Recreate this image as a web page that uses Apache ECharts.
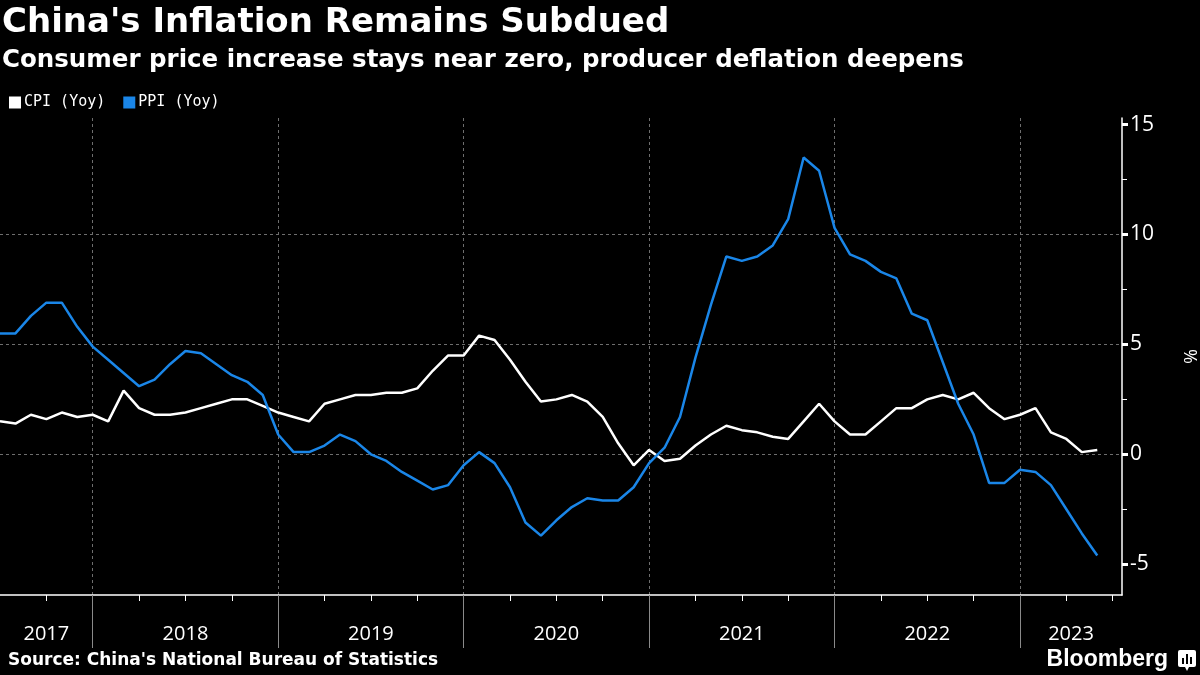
<!DOCTYPE html>
<html>
<head>
<meta charset="utf-8">
<title>China's Inflation Remains Subdued</title>
<script src="https://cdn.jsdelivr.net/npm/echarts@6/dist/echarts.min.js"></script>
<style>
  html, body { margin: 0; padding: 0; background: #000; }
  #chart { width: 1200px; height: 675px; }
</style>
</head>
<body>
<div id="chart"></div>
<script>
// monthly readings, Jun 2017 .. May 2023
const months = [
  '2017-06', '2017-07', '2017-08', '2017-09', '2017-10', '2017-11', '2017-12',
  '2018-01', '2018-02', '2018-03', '2018-04', '2018-05', '2018-06', '2018-07', '2018-08', '2018-09', '2018-10', '2018-11', '2018-12',
  '2019-01', '2019-02', '2019-03', '2019-04', '2019-05', '2019-06', '2019-07', '2019-08', '2019-09', '2019-10', '2019-11', '2019-12',
  '2020-01', '2020-02', '2020-03', '2020-04', '2020-05', '2020-06', '2020-07', '2020-08', '2020-09', '2020-10', '2020-11', '2020-12',
  '2021-01', '2021-02', '2021-03', '2021-04', '2021-05', '2021-06', '2021-07', '2021-08', '2021-09', '2021-10', '2021-11', '2021-12',
  '2022-01', '2022-02', '2022-03', '2022-04', '2022-05', '2022-06', '2022-07', '2022-08', '2022-09', '2022-10', '2022-11', '2022-12',
  '2023-01', '2023-02', '2023-03', '2023-04', '2023-05'
];
const cpi = [
  1.5, 1.4, 1.8, 1.6, 1.9, 1.7, 1.8,
  1.5, 2.9, 2.1, 1.8, 1.8, 1.9, 2.1, 2.3, 2.5, 2.5, 2.2, 1.9,
  1.7, 1.5, 2.3, 2.5, 2.7, 2.7, 2.8, 2.8, 3.0, 3.8, 4.5, 4.5,
  5.4, 5.2, 4.3, 3.3, 2.4, 2.5, 2.7, 2.4, 1.7, 0.5, -0.5, 0.2,
  -0.3, -0.2, 0.4, 0.9, 1.3, 1.1, 1.0, 0.8, 0.7, 1.5, 2.3, 1.5,
  0.9, 0.9, 1.5, 2.1, 2.1, 2.5, 2.7, 2.5, 2.8, 2.1, 1.6, 1.8,
  2.1, 1.0, 0.7, 0.1, 0.2
];
const ppi = [
  5.5, 5.5, 6.3, 6.9, 6.9, 5.8, 4.9,
  4.3, 3.7, 3.1, 3.4, 4.1, 4.7, 4.6, 4.1, 3.6, 3.3, 2.7, 0.9,
  0.1, 0.1, 0.4, 0.9, 0.6, 0.0, -0.3, -0.8, -1.2, -1.6, -1.4, -0.5,
  0.1, -0.4, -1.5, -3.1, -3.7, -3.0, -2.4, -2.0, -2.1, -2.1, -1.5, -0.4,
  0.3, 1.7, 4.4, 6.8, 9.0, 8.8, 9.0, 9.5, 10.7, 13.5, 12.9, 10.3,
  9.1, 8.8, 8.3, 8.0, 6.4, 6.1, 4.2, 2.3, 0.9, -1.3, -1.3, -0.7,
  -0.8, -1.4, -2.5, -3.6, -4.6
];
const years = ['2017', '2018', '2019', '2020', '2021', '2022', '2023'];
const yTicks = [-5, 0, 5, 10, 15];

// month-end position, counted in months from 1 Jan 2017
function monthPos(s) {
  const [y, m] = s.split('-').map(Number);
  return (y - 2017) * 12 + m;
}
const xMin = 6, xMax = 78.6;
const yearBreaks = years.slice(1).map(y => (Number(y) - 2017) * 12);
const quarterTicks = [];
for (let q = 9; q < xMax; q += 3) if (q % 12 !== 0) quarterTicks.push(q);
// year label sits in the middle of the visible part of each year
const yearLabelPos = years.map((y, i) => {
  const a = Math.max(i * 12, xMin), b = Math.min((i + 1) * 12, xMax);
  return (a + b) / 2;
});

const white = '#ffffff';
const blue = '#1a86e8';
const grid = '#6e6e6e';
const font = 'Open Sans';

const chart = echarts.init(document.getElementById('chart'));
chart.setOption({
  backgroundColor: '#000',
  animation: false,
  title: {
    text: "China's Inflation Remains Subdued",
    subtext: 'Consumer price increase stays near zero, producer deflation deepens',
    left: 0,
    top: 4,
    itemGap: 8,
    padding: [2, 2],
    textStyle: { color: white, fontSize: 34, fontWeight: 'bold', fontFamily: 'DejaVu Sans' },
    subtextStyle: { color: white, fontSize: 24.5, fontWeight: 'bold', fontFamily: 'DejaVu Sans' }
  },
  legend: {
    left: 4,
    top: 90,
    icon: 'rect',
    itemWidth: 12,
    itemHeight: 12,
    itemGap: 18,
    textStyle: { color: white, fontSize: 15, fontFamily: 'DejaVu Sans Mono', padding: [0, 0, 0, -2] },
    data: ['CPI (Yoy)', 'PPI (Yoy)']
  },
  grid: { left: 0, right: 78, top: 118, bottom: 80, containLabel: false, outerBoundsMode: 'none' },
  xAxis: [
    {
      type: 'value',
      min: xMin,
      max: xMax,
      position: 'bottom',
      axisLine: { show: true, onZero: false, lineStyle: { color: white, width: 1.5 } },
      axisTick: { show: true, customValues: yearBreaks, length: 53, lineStyle: { color: '#8a8a8a', width: 1 } },
      axisLabel: {
        customValues: yearLabelPos,
        formatter: v => years[Math.floor(v / 12)],
        color: white, fontSize: 20, fontFamily: font, margin: 29
      },
      splitLine: { show: true, lineStyle: { color: grid, type: [3, 3], width: 1 } }
    },
    {
      type: 'value',
      min: xMin,
      max: xMax,
      position: 'bottom',
      axisLine: { show: false, onZero: false },
      axisTick: { show: true, customValues: quarterTicks, length: 6, lineStyle: { color: white, width: 1 } },
      axisLabel: { show: false },
      splitLine: { show: false }
    }
  ],
  yAxis: {
    type: 'value',
    position: 'right',
    min: -6.4,
    max: 15.3,
    name: '%',
    nameLocation: 'middle',
    nameRotate: -90,
    nameGap: 58,
    nameTextStyle: { color: white, fontSize: 18, fontFamily: font },
    axisLine: { show: true, lineStyle: { color: white, width: 1.5 } },
    axisTick: { show: true, customValues: yTicks, length: 6, lineStyle: { color: white, width: 3 } },
    minorTick: { show: true, splitNumber: 2, length: 5, lineStyle: { color: white, width: 1 } },
    axisLabel: { customValues: yTicks, color: white, fontSize: 21, fontFamily: font, margin: 8 },
    splitLine: { show: true, showMinLine: false, showMaxLine: false, lineStyle: { color: grid, type: [3, 3], width: 1 } }
  },
  series: [
    {
      name: 'CPI (Yoy)',
      type: 'line',
      color: white,
      showSymbol: false,
      lineStyle: { width: 2.5 },
      data: cpi.map((v, i) => [monthPos(months[i]), v])
    },
    {
      name: 'PPI (Yoy)',
      type: 'line',
      color: blue,
      showSymbol: false,
      lineStyle: { width: 2.5 },
      data: ppi.map((v, i) => [monthPos(months[i]), v])
    }
  ],
  graphic: [
    {
      type: 'text',
      left: 8,
      top: 652,
      style: { text: "Source: China's National Bureau of Statistics", fill: white, font: 'bold 17px "DejaVu Sans"' }
    },
    {
      type: 'text',
      right: 32,
      top: 648,
      style: { text: 'Bloomberg', fill: white, font: 'bold 23px "Liberation Sans"' }
    },
    {
      type: 'group',
      right: 4,
      top: 650,
      children: [
        { type: 'rect', shape: { x: 0, y: 0, width: 18, height: 17, r: 2 }, style: { fill: white } },
        { type: 'polygon', shape: { points: [[7, 17], [11, 17], [9, 21]] }, style: { fill: white } },
        { type: 'rect', shape: { x: 4, y: 8, width: 2, height: 6 }, style: { fill: '#000' } },
        { type: 'rect', shape: { x: 8, y: 4, width: 2, height: 10 }, style: { fill: '#000' } },
        { type: 'rect', shape: { x: 12, y: 7, width: 2, height: 7 }, style: { fill: '#000' } }
      ]
    }
  ]
});
</script>
</body>
</html>
